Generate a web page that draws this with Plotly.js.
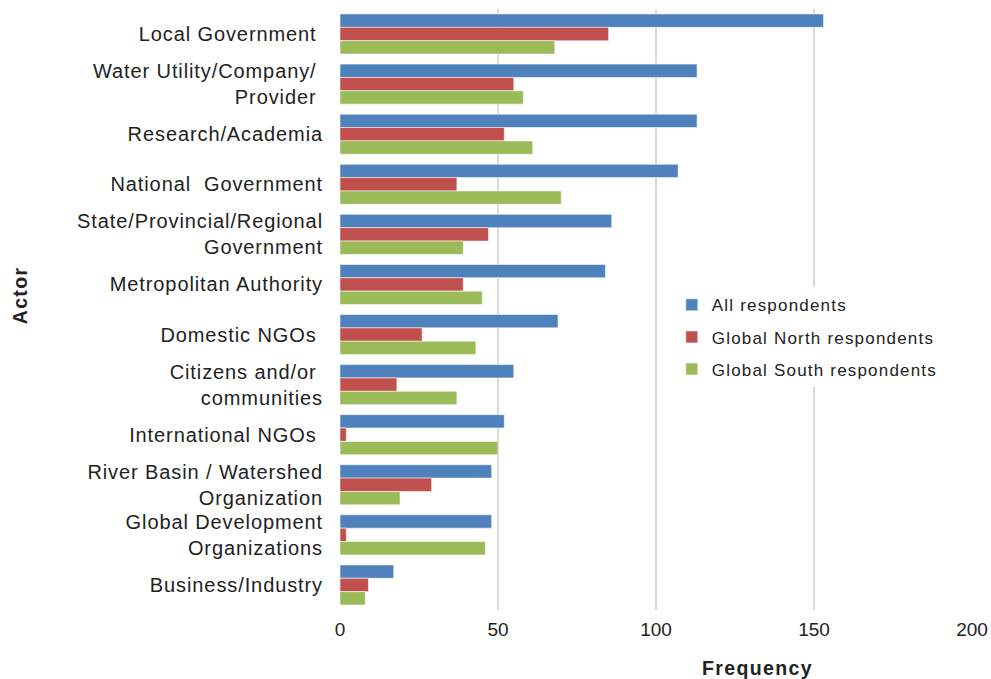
<!DOCTYPE html>
<html>
<head>
<meta charset="utf-8">
<script src="https://cdn.plot.ly/plotly-3.0.1.min.js"></script>
<style>
  html, body { margin: 0; padding: 0; background: #fff; }
  #chart { width: 991px; height: 679px; }
  .ytick text { letter-spacing: 0.045em; }
  .legendtext, .annotation-text { letter-spacing: 0.07em; }
</style>
</head>
<body>
<div id="chart"></div>
<script>
const actors = [
  "Local Government\u00a0",
  "Water Utility/Company/\u00a0<br>Provider\u00a0",
  "Research/Academia",
  "National\u00a0 Government",
  "State/Provincial/Regional<br>Government",
  "Metropolitan Authority",
  "Domestic NGOs\u00a0",
  "Citizens and/or\u00a0<br>communities",
  "International NGOs\u00a0",
  "River Basin / Watershed<br>Organization",
  "Global Development<br>Organizations",
  "Business/Industry"
];
const allRespondents   = [153, 113, 113, 107, 86, 84, 69, 55, 52, 48, 48, 17];
const northRespondents = [85, 55, 52, 37, 47, 39, 26, 18, 2, 29, 2, 9];
const southRespondents = [68, 58, 61, 70, 39, 45, 43, 37, 50, 19, 46, 8];
const seriesNames = ["All respondents", "Global North respondents", "Global South respondents"];
const seriesColors = ["#4F81BD", "#C0504D", "#9BBB59"];
const xTicks = [0, 50, 100, 150, 200];

const seriesValues = [allRespondents, northRespondents, southRespondents];
const traces = seriesValues.map((vals, i) => ({
  type: "bar",
  orientation: "h",
  name: seriesNames[i],
  legendgroup: "g" + i,
  x: vals,
  y: actors,
  marker: { color: seriesColors[i], line: { color: "rgba(255,255,255,0.55)", width: 1 } },
  hoverinfo: "x+name"
}));

const font = "'Liberation Sans', Arial, Helvetica, sans-serif";
const layout = {
  width: 991,
  height: 679,
  margin: { l: 340, r: 19, t: 9, b: 69 },
  paper_bgcolor: "#ffffff",
  plot_bgcolor: "#ffffff",
  font: { family: font, size: 20, color: "#222222" },
  barmode: "group",
  bargap: 0.2,
  bargroupgap: 0,
  showlegend: true,
  legend: {
    x: 0.525, y: 0.537, xanchor: "left", yanchor: "top",
    bgcolor: "#ffffff",
    font: { family: font, size: 17, color: "#222222" },
    traceorder: "grouped",
    tracegroupgap: 7,
    itemwidth: 30
  },
  xaxis: {
    range: [0, 200],
    tickvals: xTicks,
    ticktext: xTicks.map(String),
    showgrid: true,
    gridcolor: "#d9d9d9",
    gridwidth: 1.5,
    zeroline: false,
    showline: false,
    ticks: "",
    ticklabelstandoff: 6,
    tickfont: { family: font, size: 19, color: "#222222" },
    fixedrange: true
  },
  yaxis: {
    type: "category",
    autorange: "reversed",
    showgrid: false,
    zeroline: false,
    showline: false,
    ticks: "",
    ticklabelstandoff: 16,
    tickfont: { family: font, size: 20, color: "#222222" },
    fixedrange: true
  },
  annotations: [
    {
      text: "<b>Frequency</b>",
      xref: "paper", yref: "paper",
      x: 0.66, y: 0, xanchor: "center", yanchor: "middle",
      yshift: -58,
      showarrow: false,
      font: { family: font, size: 19.5, color: "#222222" }
    },
    {
      text: "<b>Actor</b>",
      xref: "paper", yref: "paper",
      x: -0.506, y: 0.524, xanchor: "center", yanchor: "middle",
      textangle: -90,
      showarrow: false,
      font: { family: font, size: 19.5, color: "#222222" }
    }
  ]
};

Plotly.newPlot("chart", traces, layout, { displayModeBar: false });
</script>
</body>
</html>
